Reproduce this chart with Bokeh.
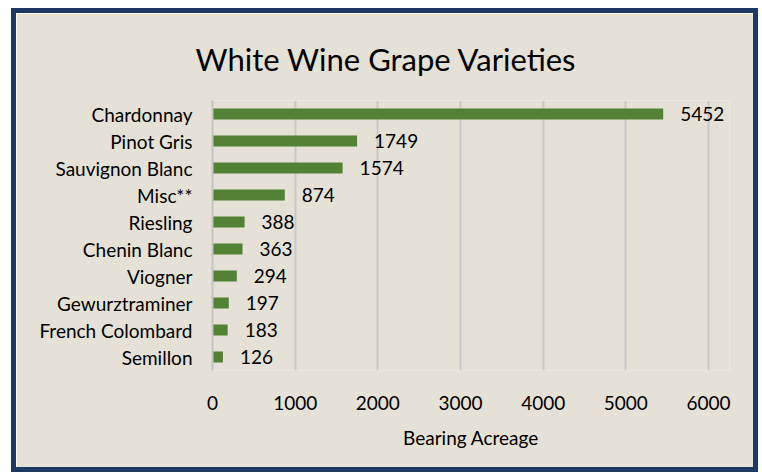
from bokeh.plotting import figure
from bokeh.models import Range1d, FactorRange, ColumnDataSource
from bokeh.core.properties import value
from bokeh.embed import file_html
from bokeh.resources import INLINE

varieties = ["Chardonnay", "Pinot Gris", "Sauvignon Blanc", "Misc**", "Riesling",
             "Chenin Blanc", "Viogner", "Gewurztraminer", "French Colombard", "Semillon"]
acreage = [5452, 1749, 1574, 874, 388, 363, 294, 197, 183, 126]
x_ticks = [0, 1000, 2000, 3000, 4000, 5000, 6000]
title_text = "White Wine Grape Varieties"
x_title = "Bearing Acreage"

FONT = "Lato"
BG = "#E5E1D6"
BAR = "#538135"
BORDER = "#203864"

src = ColumnDataSource(dict(cat=varieties, val=acreage, lab=[str(v) for v in acreage]))

p = figure(width=747, height=464, output_backend="svg", toolbar_location=None,
           y_range=FactorRange(factors=varieties[::-1], range_padding=0),
           x_range=Range1d(0, 6254),
           min_border_left=196, min_border_right=34, min_border_top=87, min_border_bottom=107)
p.styles = {"border": f"5px solid {BORDER}", "box-sizing": "border-box",
            "margin-left": "11px", "margin-top": "8px"}
p.background_fill_color = BG
p.border_fill_color = BG
p.outline_line_color = None

p.hbar(y="cat", right="val", left=0, height=0.41, source=src, color=BAR, line_color=None)
p.text(x="val", y="cat", text="lab", source=src, x_offset=17, text_align="left",
       text_baseline="middle", text_font=value(FONT), text_font_size="19px", text_color="#000000")

# title
p.title.text = title_text
p.title.align = "left"
p.title.offset = -17
p.title.standoff = 45
p.title.text_font = FONT
p.title.text_font_size = "31px"
p.title.text_font_style = "normal"
p.title.text_color = "#000000"

# axes
p.xaxis.ticker = x_ticks
p.xaxis.axis_line_color = None
p.xaxis.major_tick_line_color = None
p.xaxis.minor_tick_line_color = None
p.xaxis.major_label_text_font = FONT
p.xaxis.major_label_text_font_size = "19px"
p.xaxis.major_label_text_color = "#000000"
p.xaxis.major_label_standoff = 19
p.xaxis.axis_label = x_title
p.xaxis.axis_label_text_font = FONT
p.xaxis.axis_label_text_font_size = "19px"
p.xaxis.axis_label_text_font_style = "normal"
p.xaxis.axis_label_text_color = "#000000"
p.xaxis.axis_label_standoff = 13

p.yaxis.axis_line_color = "#C4C4C4"
p.yaxis.axis_line_width = 2
p.yaxis.major_tick_line_color = None
p.yaxis.minor_tick_line_color = None
p.yaxis.major_label_text_font = FONT
p.yaxis.major_label_text_font_size = "19px"
p.yaxis.major_label_text_color = "#000000"
p.yaxis.major_label_standoff = 14

p.xgrid.grid_line_color = "#C9C9C9"
p.xgrid.grid_line_width = 2
p.ygrid.grid_line_color = None

open("out.html", "w").write(file_html(p, INLINE))
